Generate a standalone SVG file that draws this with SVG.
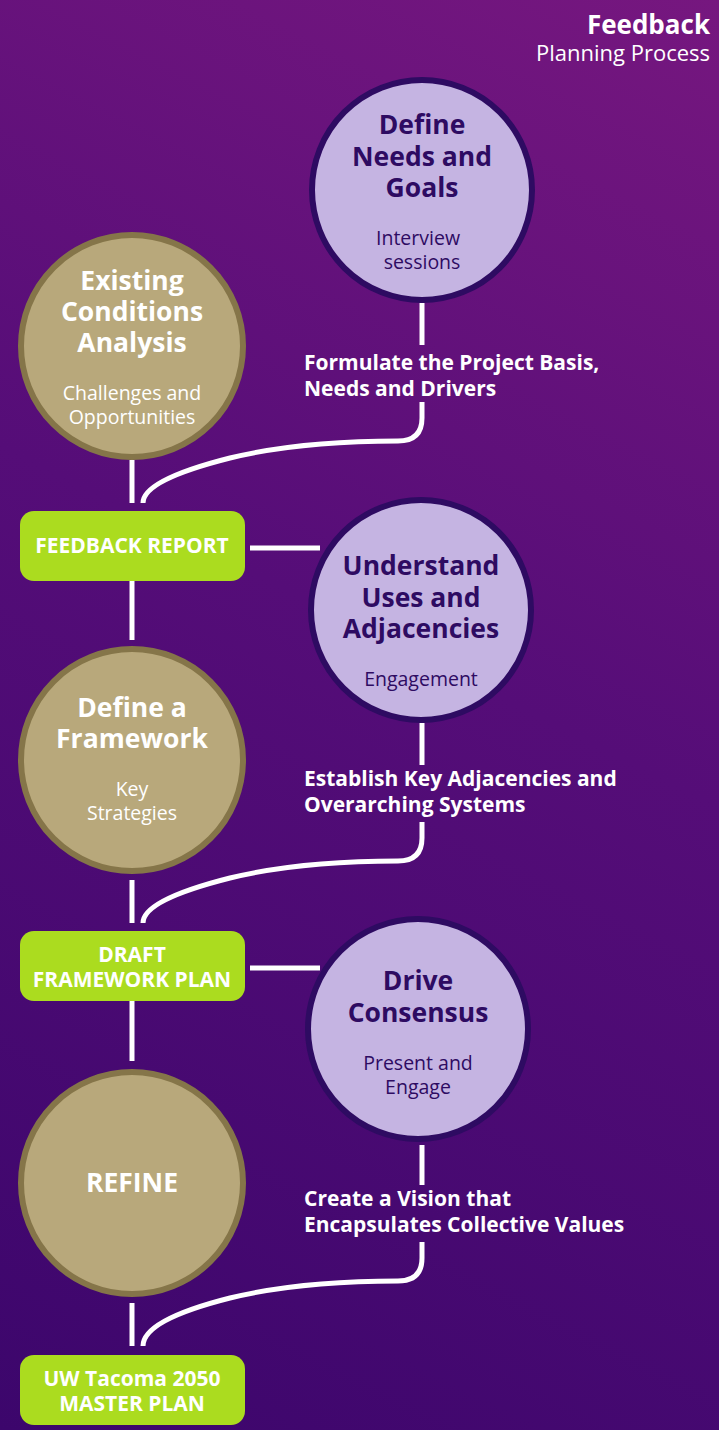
<svg xmlns="http://www.w3.org/2000/svg" width="719" height="1430" viewBox="0 0 719 1430">
<defs>
<linearGradient id="bg" x1="719" y1="0" x2="0" y2="1430" gradientUnits="userSpaceOnUse">
<stop offset="0" stop-color="#76177f"/>
<stop offset="0.45" stop-color="#550d78"/>
<stop offset="1" stop-color="#3c066c"/>
</linearGradient>
</defs>
<style>
.lav{fill:#c5b4e2;stroke:#2e0b62;stroke-width:6}
.gold{fill:#b8a87b;stroke:#857549;stroke-width:6}
.box{fill:#abdc1f}
.t{font-family:"Open Sans","Noto Sans",sans-serif;text-anchor:middle}
.th{font-size:26.5px;font-weight:bold}
.ts{font-size:19.5px}
.dk{fill:#2e0b62}
.wh{fill:#ffffff}
.bx{font-size:21px;font-weight:bold;fill:#ffffff}
.lbl{font-family:"Open Sans","Noto Sans",sans-serif;font-size:21px;font-weight:bold;fill:#ffffff}
.c{fill:none;stroke:#ffffff;stroke-width:5}
</style>
<rect width="719" height="1430" fill="url(#bg)"/>
<g id="title">
<text x="710" y="34" font-family="Open Sans, Noto Sans, sans-serif" font-size="26" font-weight="bold" fill="#fff" text-anchor="end">Feedback</text>
<text x="710" y="61" font-family="Open Sans, Noto Sans, sans-serif" font-size="22" fill="#fff" text-anchor="end">Planning Process</text>
</g>
<g id="connectors">
<path class="c" d="M422 303 V345"/>
<path class="c" d="M422 402 V418 Q422 441 398 441 Q300 441 230 458 Q143 480 143 503"/>
<path class="c" d="M132 460 V503"/>
<path class="c" d="M250 548 H320"/>
<path class="c" d="M132 581 V640"/>
<path class="c" d="M422 723 V765"/>
<path class="c" d="M422 822 V838 Q422 861 398 861 Q300 861 230 878 Q143 900 143 923"/>
<path class="c" d="M132 880 V923"/>
<path class="c" d="M250 968 H320"/>
<path class="c" d="M132 1001 V1061"/>
<path class="c" d="M422 1145 V1185"/>
<path class="c" d="M422 1242 V1258 Q422 1281 398 1281 Q300 1281 230 1298 Q143 1320 143 1346"/>
<path class="c" d="M132 1303 V1346"/>
</g>
<g id="lbl1"><text class="lbl" x="304" y="370">Formulate the Project Basis,</text><text class="lbl" x="304" y="396">Needs and Drivers</text></g>
<g id="lbl2"><text class="lbl" x="304" y="786">Establish Key Adjacencies and</text><text class="lbl" x="304" y="812">Overarching Systems</text></g>
<g id="lbl3"><text class="lbl" x="304" y="1206">Create a Vision that</text><text class="lbl" x="304" y="1232">Encapsulates Collective Values</text></g>
<g id="define-needs">
<circle class="lav" cx="422" cy="190" r="110"/>
<text class="t th dk" x="422" y="134">Define</text>
<text class="t th dk" x="422" y="166">Needs and</text>
<text class="t th dk" x="422" y="197">Goals</text>
<text class="t ts dk" x="418" y="245">Interview</text>
<text class="t ts dk" x="422" y="269">sessions</text>
</g>
<g id="existing">
<circle class="gold" cx="132" cy="346" r="111"/>
<text class="t th wh" x="132" y="290">Existing</text>
<text class="t th wh" x="132" y="321">Conditions</text>
<text class="t th wh" x="132" y="352">Analysis</text>
<text class="t ts wh" x="132" y="400">Challenges and</text>
<text class="t ts wh" x="132" y="424">Opportunities</text>
</g>
<g id="feedback-report">
<rect class="box" x="20" y="511" width="225" height="70" rx="14"/>
<text class="t bx" x="132" y="553">FEEDBACK REPORT</text>
</g>
<g id="understand">
<circle class="lav" cx="421" cy="610" r="110"/>
<text class="t th dk" x="421" y="575">Understand</text>
<text class="t th dk" x="421" y="607">Uses and</text>
<text class="t th dk" x="421" y="638">Adjacencies</text>
<text class="t ts dk" x="421" y="686">Engagement</text>
</g>
<g id="framework">
<circle class="gold" cx="132" cy="760" r="111"/>
<text class="t th wh" x="132" y="717">Define a</text>
<text class="t th wh" x="132" y="748">Framework</text>
<text class="t ts wh" x="132" y="796">Key</text>
<text class="t ts wh" x="132" y="820">Strategies</text>
</g>
<g id="draft">
<rect class="box" x="20" y="931" width="225" height="70" rx="14"/>
<text class="t bx" x="132" y="962">DRAFT</text>
<text class="t bx" x="132" y="987">FRAMEWORK PLAN</text>
</g>
<g id="consensus">
<circle class="lav" cx="418" cy="1029" r="110"/>
<text class="t th dk" x="418" y="990">Drive</text>
<text class="t th dk" x="418" y="1022">Consensus</text>
<text class="t ts dk" x="418" y="1070">Present and</text>
<text class="t ts dk" x="418" y="1094">Engage</text>
</g>
<g id="refine">
<circle class="gold" cx="132" cy="1183" r="111"/>
<text class="t th wh" x="132" y="1192">REFINE</text>
</g>
<g id="master">
<rect class="box" x="20" y="1355" width="225" height="70" rx="14"/>
<text class="t bx" x="132" y="1386">UW Tacoma 2050</text>
<text class="t bx" x="132" y="1411">MASTER PLAN</text>
</g>
</svg>
